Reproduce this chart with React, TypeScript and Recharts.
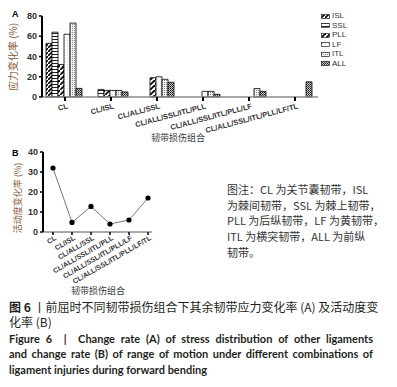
import React from "react";
import {
  BarChart,
  Bar,
  LineChart,
  Line,
  XAxis,
  YAxis,
} from "recharts";

const combos = [
  "CL",
  "CL/ISL",
  "CL/ALL/SSL",
  "CL/ALL/SSL/ITL/PLL",
  "CL/ALL/SSL/ITL/PLL/LF",
  "CL/ALL/SSL/ITL/PLL/LF/TL",
];

// stress change rate (%), null = ligament not shown in that group
const isl = [53, null, null, null, null, null];
const ssl = [64, 7.5, null, null, null, null];
const pll = [32, 6.5, 19, null, null, null];
const lf = [62, 6.5, 20, 5.6, null, null];
const itl = [73, 6.5, 17.5, 5.6, 8.3, null];
const all = [8.5, 5, 14.5, 2.6, 5.6, 15];

// range of motion change rate (%)
const rom = [32, 4.8, 12.8, 4, 6, 17];

const stressTicks = [0, 20, 40, 60, 80];
const romTicks = [0, 10, 20, 30, 40];

const ligaments = [
  { key: "ISL", values: isl, pattern: "pISL" },
  { key: "SSL", values: ssl, pattern: "pSSL" },
  { key: "PLL", values: pll, pattern: "pPLL" },
  { key: "LF", values: lf, pattern: "pLF" },
  { key: "ITL", values: itl, pattern: "pITL" },
  { key: "ALL", values: all, pattern: "pALL" },
];

const barData = combos.map((c, i) => {
  const row: Record<string, string | number | null> = { name: c };
  ligaments.forEach((l) => (row[l.key] = l.values[i]));
  return row;
});

const lineData = combos.map((c, i) => ({ name: c, rom: rom[i] }));

const tickFont = "'Liberation Sans', Arial, sans-serif";
const cjkFont = "'Noto Sans CJK SC', 'Noto Sans', sans-serif";
const brown = "#8a5a36";

function SlantTick(props: any) {
  const { x, y, payload, angle, dy, size } = props;
  return (
    <g transform={`translate(${x},${y})`}>
      <text
        x={2}
        y={0}
        dy={dy}
        textAnchor="end"
        transform={`rotate(${angle})`}
        fontSize={size}
        fontWeight="bold"
        fontFamily={tickFont}
        fill="#333"
      >
        {payload.value}
      </text>
    </g>
  );
}

const yTick = {
  fontSize: 9,
  fontWeight: "bold",
  fill: "#333",
  fontFamily: tickFont,
};

function Patterns() {
  return (
    <defs>
      <pattern id="pISL" width="4" height="4" patternUnits="userSpaceOnUse">
        <rect width="4" height="4" fill="#fff" />
        <path d="M-1,5 L5,-1" stroke="#000" strokeWidth="1.6" />
      </pattern>
      <pattern id="pSSL" width="3" height="3" patternUnits="userSpaceOnUse">
        <rect width="3" height="3" fill="#fff" />
        <line x1="0" y1="0.5" x2="3" y2="0.5" stroke="#222" strokeWidth="1" />
      </pattern>
      <pattern id="pPLL" width="5" height="5" patternUnits="userSpaceOnUse">
        <rect width="5" height="5" fill="#fff" />
        <path d="M-1,6 L6,-1" stroke="#000" strokeWidth="1.8" />
      </pattern>
      <pattern id="pLF" width="3" height="3" patternUnits="userSpaceOnUse">
        <rect width="3" height="3" fill="#fff" />
        <rect x="1" y="1" width="0.8" height="0.8" fill="#bbb" />
      </pattern>
      <pattern id="pITL" width="2" height="2" patternUnits="userSpaceOnUse">
        <rect width="2" height="2" fill="#f2f2f2" />
        <rect x="0" y="0" width="1" height="1" fill="#888" />
      </pattern>
      <pattern id="pALL" width="2" height="2" patternUnits="userSpaceOnUse">
        <rect width="2" height="2" fill="#ccc" />
        <rect x="0" y="0" width="1" height="1" fill="#111" />
        <rect x="1" y="1" width="1" height="1" fill="#444" />
      </pattern>
    </defs>
  );
}

const abs = (left: number, top: number): React.CSSProperties => ({
  position: "absolute",
  left,
  top,
  whiteSpace: "nowrap",
});

export default function App() {
  return (
    <div
      style={{
        position: "absolute",
        left: 0,
        top: 0,
        width: 397,
        height: 387,
        background: "#fff",
        overflow: "hidden",
      }}
    >
      {/* panel A */}
      <div style={{ position: "absolute", left: 0, top: 0 }}>
        <BarChart
          width={397}
          height={145}
          data={barData}
          margin={{ top: 16, right: 79, left: 0, bottom: 8 }}
          barCategoryGap={4}
          barGap={0}
        >
          <Patterns />
          <XAxis
            dataKey="name"
            interval={0}
            height={40}
            tickSize={4}
            axisLine={{ stroke: "#8c8c8c", strokeWidth: 1.5 }}
            tickLine={{ stroke: "#000", strokeWidth: 2 }}
            tick={<SlantTick angle={-15} dy={6} size={7.5} />}
          />
          <YAxis
            width={42}
            domain={[0, 80]}
            ticks={stressTicks}
            tickSize={3}
            axisLine={{ stroke: "#000", strokeWidth: 2 }}
            tickLine={{ stroke: "#000", strokeWidth: 1.5 }}
            tick={yTick}
          />
          {ligaments.map((l) => (
            <Bar
              key={l.key}
              dataKey={l.key}
              fill={`url(#${l.pattern})`}
              stroke="#000"
              strokeWidth={0.8}
              isAnimationActive={false}
            />
          ))}
        </BarChart>
      </div>

      {/* legend A */}
      {ligaments.map((l, i) => (
        <div
          key={l.key}
          style={{
            ...abs(321, 11 + i * 9.5),
            display: "flex",
            alignItems: "center",
            fontSize: 8,
            fontFamily: tickFont,
            color: "#333",
            lineHeight: "10px",
          }}
        >
          <svg width={9} height={5} style={{ marginRight: 2 }}>
            <rect
              x={0.5}
              y={0.5}
              width={8}
              height={4}
              fill={`url(#${l.pattern})`}
              stroke="#000"
              strokeWidth={0.6}
            />
          </svg>
          {l.key}
        </div>
      ))}

      <div style={{ ...abs(12, 9), fontSize: 9, fontWeight: "bold", fontFamily: tickFont }}>A</div>
      <div
        style={{
          ...abs(12, 57),
          fontSize: 10,
          fontFamily: cjkFont,
          color: brown,
          transform: "translate(-50%, -50%) rotate(-90deg)",
        }}
      >
        应力变化率 (%)
      </div>
      <div
        style={{
          ...abs(178, 137),
          fontSize: 9,
          fontFamily: cjkFont,
          color: "#333",
          transform: "translate(-50%, -50%)",
        }}
      >
        韧带损伤组合
      </div>

      {/* panel B */}
      <div style={{ position: "absolute", left: 0, top: 140 }}>
        <LineChart
          width={160}
          height={180}
          data={lineData}
          margin={{ top: 12, right: 8, left: 0, bottom: 8 }}
        >
          <XAxis
            dataKey="name"
            interval={0}
            height={80}
            padding={{ left: 10, right: 4 }}
            tickSize={3}
            axisLine={{ stroke: "#8c8c8c", strokeWidth: 1.5 }}
            tickLine={{ stroke: "#000", strokeWidth: 1.5 }}
            tick={<SlantTick angle={-30} dy={4} size={7} />}
          />
          <YAxis
            width={43}
            domain={[0, 40]}
            ticks={romTicks}
            tickSize={3}
            axisLine={{ stroke: "#000", strokeWidth: 2 }}
            tickLine={{ stroke: "#000", strokeWidth: 1.5 }}
            tick={yTick}
          />
          <Line
            dataKey="rom"
            stroke="#777"
            strokeWidth={1}
            dot={{ r: 2.6, fill: "#000", stroke: "#000", strokeWidth: 0 }}
            isAnimationActive={false}
          />
        </LineChart>
      </div>

      <div style={{ ...abs(12, 148), fontSize: 9, fontWeight: "bold", fontFamily: tickFont }}>B</div>
      <div
        style={{
          ...abs(17, 198),
          fontSize: 9,
          fontFamily: cjkFont,
          color: brown,
          transform: "translate(-50%, -50%) rotate(-90deg)",
        }}
      >
        活动度变化率 (%)
      </div>
      <div
        style={{
          ...abs(98, 290),
          fontSize: 9,
          fontFamily: cjkFont,
          color: "#333",
          transform: "translate(-50%, -50%)",
        }}
      >
        韧带损伤组合
      </div>

      {/* note */}
      <div
        style={{
          position: "absolute",
          left: 227,
          top: 182,
          width: 148,
          fontSize: 11,
          lineHeight: "15.7px",
          fontFamily: cjkFont,
          color: "#333",
        }}
      >
        {[
          "图注：CL 为关节囊韧带，ISL",
          "为棘间韧带，SSL 为棘上韧带，",
          "PLL 为后纵韧带，LF 为黄韧带，",
          "ITL 为横突韧带，ALL 为前纵",
          "韧带。",
        ].map((t, i) => (
          <div key={i} style={{ whiteSpace: "nowrap" }}>{t}</div>
        ))}
      </div>

      {/* caption */}
      <div
        style={{
          position: "absolute",
          left: 9,
          top: 299,
          width: 364,
          fontSize: 12,
          lineHeight: "15px",
          fontFamily: cjkFont,
          color: "#231f20",
        }}
      >
        <div style={{ height: 15, textAlign: "justify", textAlignLast: "justify", whiteSpace: "nowrap" }}>
          <b>图 6</b> 丨前屈时不同韧带损伤组合下其余韧带应力变化率 (A) 及活动度变
        </div>
        <div style={{ height: 15 }}>化率 (B)</div>
      </div>
      <div
        style={{
          position: "absolute",
          left: 9,
          top: 331,
          width: 364,
          fontSize: 11,
          lineHeight: "15.3px",
          fontFamily: "Lato, 'Open Sans', sans-serif",
          fontWeight: "bold",
          color: "#231f20",
        }}
      >
        <div style={{ textAlign: "justify", textAlignLast: "justify" }}>
          Figure 6 &nbsp;| &nbsp;Change rate (A) of stress distribution of other ligaments
        </div>
        <div style={{ textAlign: "justify", textAlignLast: "justify" }}>
          and change rate (B) of range of motion under different combinations of
        </div>
        <div>ligament injuries during forward bending</div>
      </div>
    </div>
  );
}
